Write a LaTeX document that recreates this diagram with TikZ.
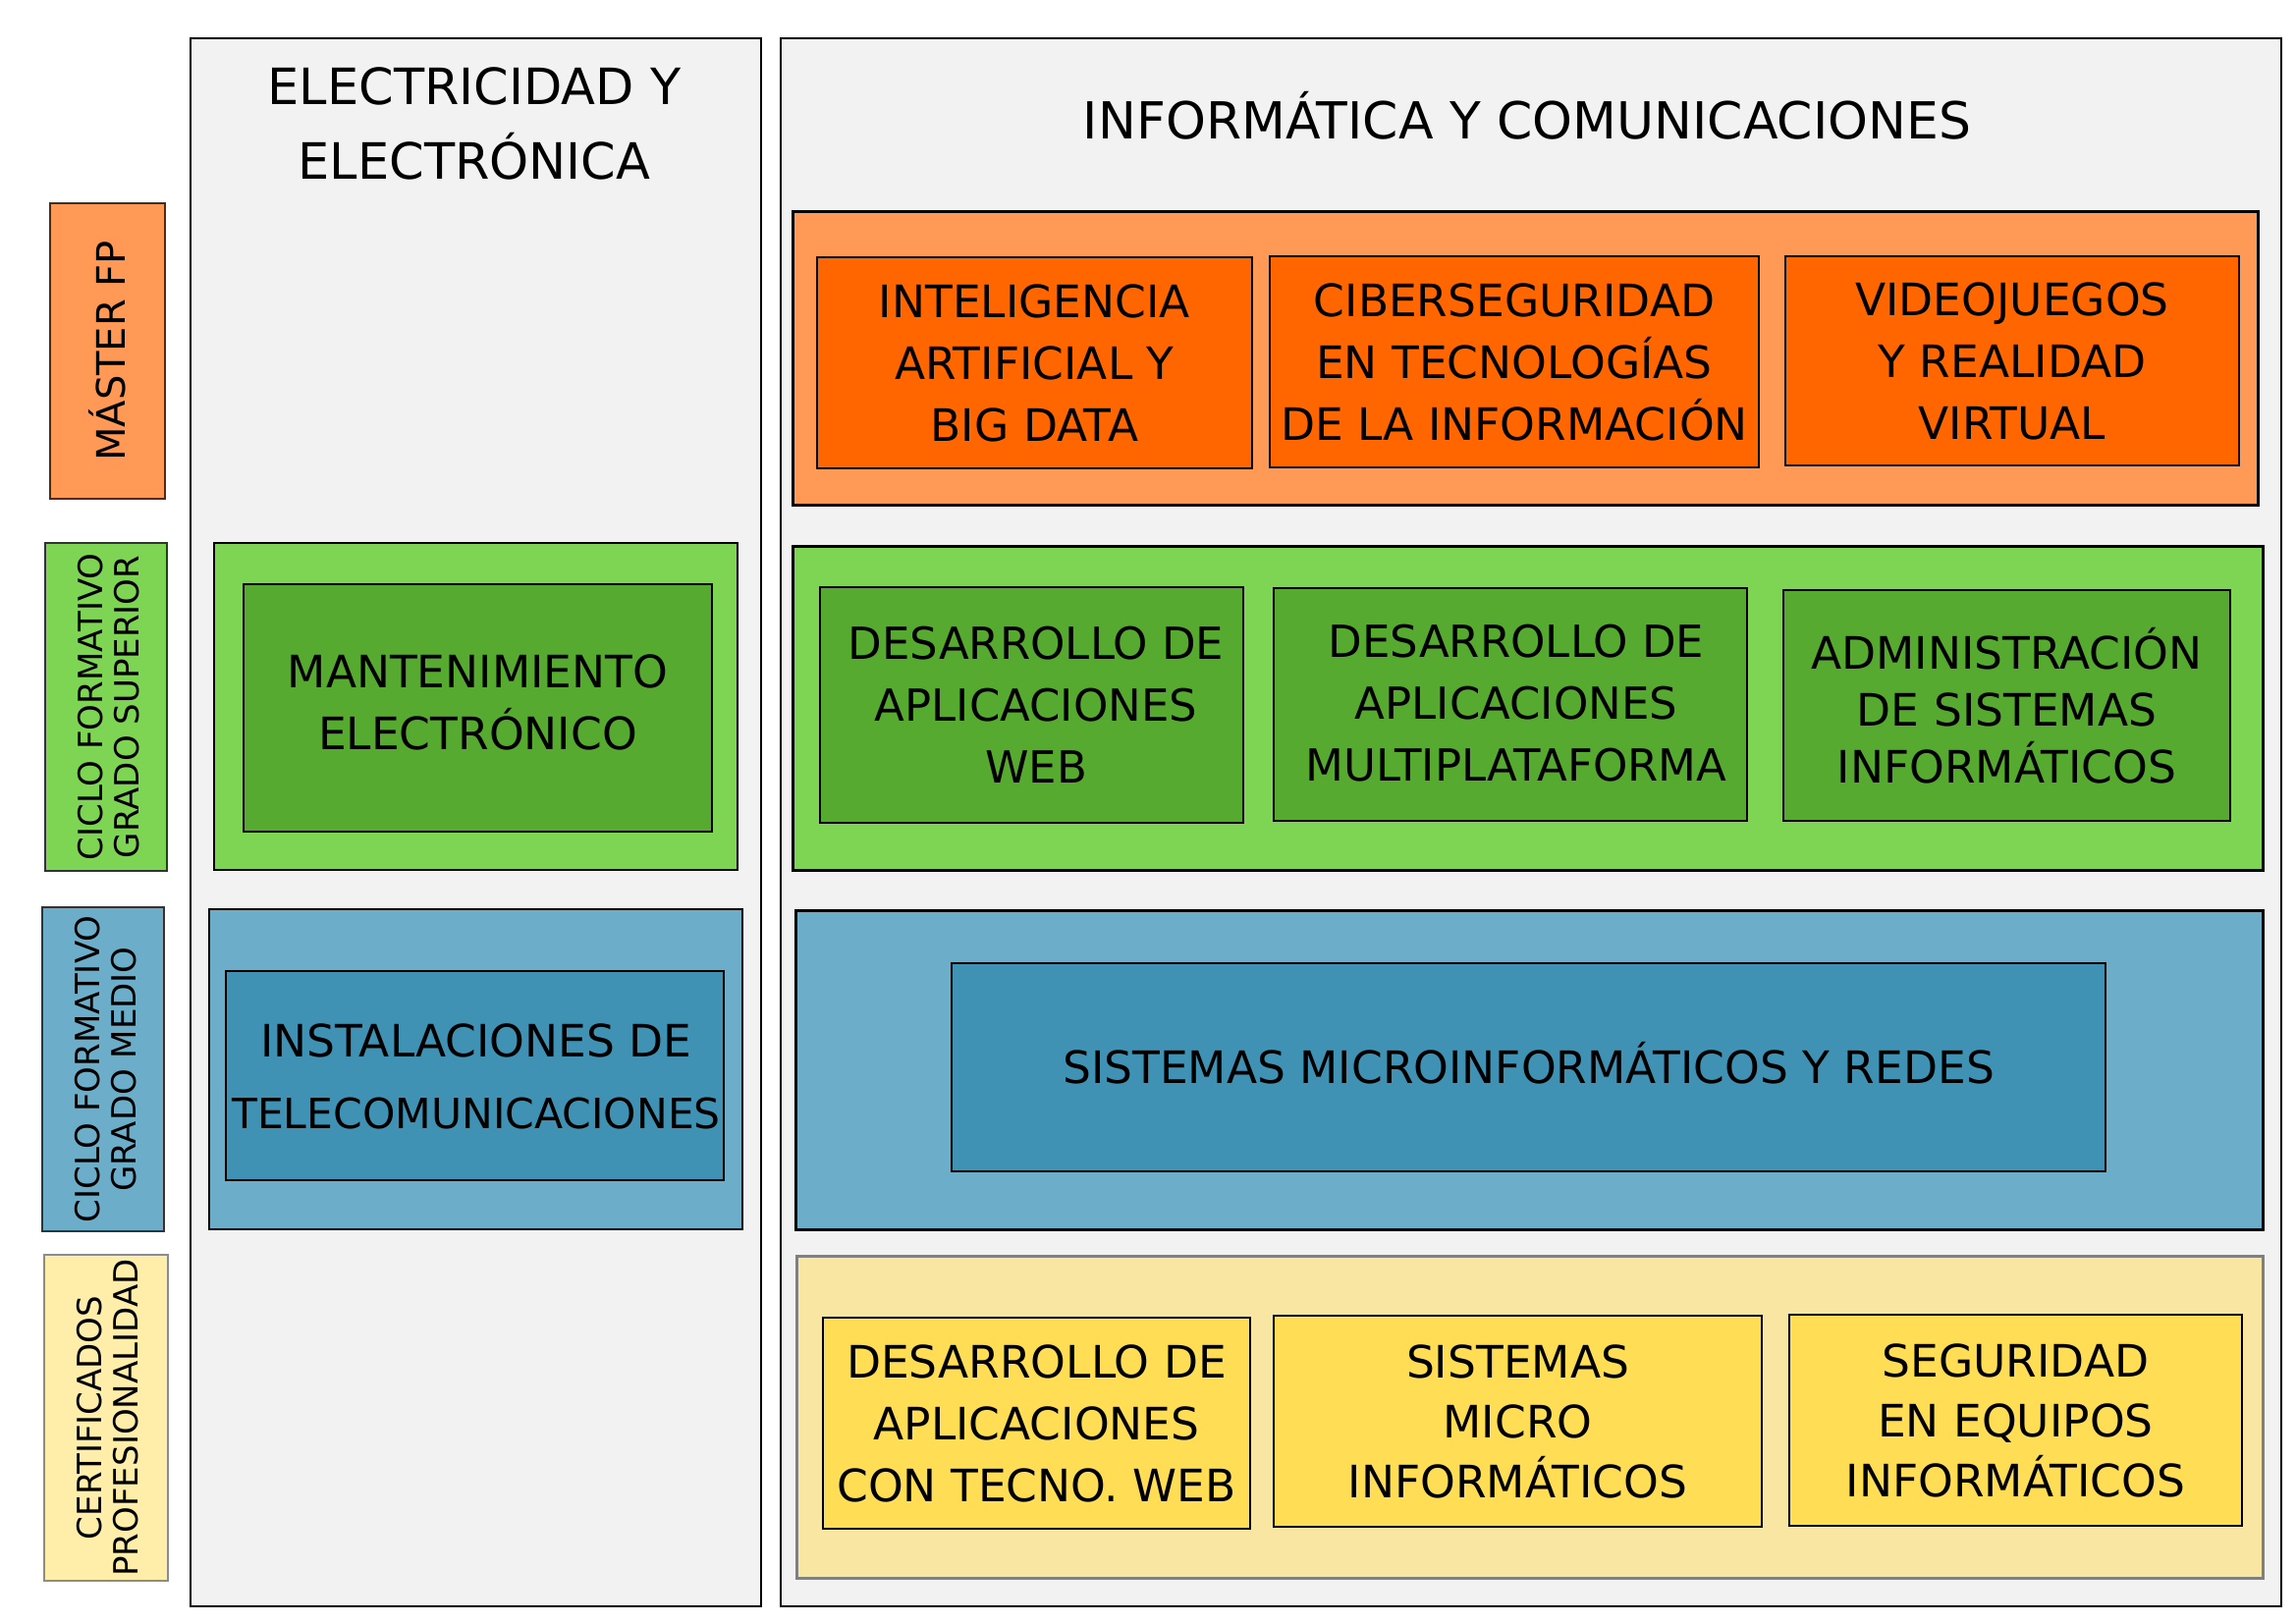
\documentclass[tikz,border=0pt]{standalone}
\usepackage{fontspec}
\setmainfont{DejaVu Sans}
\definecolor{colbg}{HTML}{F2F2F2}
\definecolor{orOut}{HTML}{FF9955}
\definecolor{orIn}{HTML}{FF6600}
\definecolor{grOut}{HTML}{7DD553}
\definecolor{grIn}{HTML}{56AA2F}
\definecolor{blOut}{HTML}{6CAECA}
\definecolor{blIn}{HTML}{3F92B4}
\definecolor{yeOut}{HTML}{F8E6A2}
\definecolor{yeLab}{HTML}{FFEEAA}
\definecolor{yeIn}{HTML}{FFDD55}
\tikzset{
  rbox/.style n args={2}{draw, inner sep=0pt, outer sep=0pt, minimum width=#1, minimum height=#2},
  column/.style={fill=colbg, line width=2pt},
  outerbox/.style={line width=3pt},
  innerbox/.style={line width=1.5pt, align=center, font=\fontsize{45.5}{63}\selectfont},
  sidelab/.style={draw=black!80, line width=1.2pt, align=center, inner sep=0pt, outer sep=0pt},
  sidetext/.style={rotate=90, align=center, font=\fontsize{34}{37}\selectfont},
  title/.style={align=center, font=\fontsize{51}{76}\selectfont}
}
\begin{document}
\begin{tikzpicture}[x=1pt, y=-1pt]
\useasboundingbox (0,0) rectangle (2338,1653);
% columns
\node[rbox={581pt}{1597pt}, column] (colE) at (484.5,837.5) {};
\node[rbox={1528pt}{1597pt}, column] (colI) at (1559,837.5) {};
\node[title] (tE) at (483,126) {ELECTRICIDAD Y\\ELECTRÓNICA};
\node[title, font=\fontsize{52}{76}\selectfont] (tI) at (1555,118) {INFORMÁTICA Y COMUNICACIONES};
% side labels
\node[rbox={117pt}{301pt}, sidelab, fill=orOut] (lM) at (109.5,357.5) {};
\node[sidetext, font=\fontsize{40}{44}\selectfont] (lMt) at (lM.center) {MÁSTER FP};
\node[rbox={124pt}{334pt}, sidelab, fill=grOut] (lS) at (108,720) {};
\node[sidetext] (lSt) at (111,720) {CICLO FORMATIVO\\GRADO SUPERIOR};
\node[rbox={124pt}{330pt}, sidelab, fill=blOut] (lG) at (105,1089) {};
\node[sidetext] (lGt) at (108,1089) {CICLO FORMATIVO\\GRADO MEDIO};
\node[rbox={126pt}{332pt}, sidelab, fill=yeLab, draw=black!45] (lC) at (108,1444) {};
\node[sidetext] (lCt) at (110,1444) {CERTIFICADOS\\PROFESIONALIDAD};
% left column
\node[rbox={533pt}{333pt}, outerbox, line width=1.5pt, fill=grOut] (gsE) at (484.5,719.5) {};
\node[rbox={477pt}{252pt}, innerbox, fill=grIn] (mant) at (486.5,721) {};
\node (mantt) at (486.5,715) [align=center, font=\fontsize{45.5}{63}\selectfont] {MANTENIMIENTO\\ELECTRÓNICO};
\node[rbox={543pt}{326pt}, outerbox, line width=1.5pt, fill=blOut] (gmE) at (484.5,1089) {};
\node[rbox={507pt}{213pt}, innerbox, fill=blIn] (inst) at (483.5,1095.5) {};
\node (instt) at (485,1096) [align=center, inner sep=0pt, font=\fontsize{42.5}{73}\selectfont] {{\fontsize{45.5}{73}\selectfont INSTALACIONES DE}\\TELECOMUNICACIONES};
% right column: master
\node[rbox={1492pt}{298pt}, outerbox, fill=orOut] (mOut) at (1553,365) {};
\node[rbox={443pt}{215pt}, innerbox, fill=orIn] (ia) at (1053.5,369.5) {INTELIGENCIA\\ARTIFICIAL Y\\BIG DATA};
\node[rbox={498pt}{215pt}, innerbox, fill=orIn] (ciber) at (1542,368.5) {CIBERSEGURIDAD\\EN TECNOLOGÍAS\\DE LA INFORMACIÓN};
\node[rbox={462pt}{213pt}, innerbox, fill=orIn] (video) at (2049,367.5) {VIDEOJUEGOS\\Y REALIDAD\\VIRTUAL};
% grado superior
\node[rbox={1497pt}{330pt}, outerbox, fill=grOut] (sOut) at (1555.5,721) {};
\node[rbox={431pt}{240pt}, innerbox, fill=grIn] (daw) at (1050.5,718) {};
\node (dawt) at (1055,718) [align=center, font=\fontsize{45}{63}\selectfont] {DESARROLLO DE\\APLICACIONES\\WEB};
\node[rbox={482pt}{237pt}, innerbox, fill=grIn] (dam) at (1538,717.5) {};
\node (damt) at (1544,716) [align=center, font=\fontsize{45}{63}\selectfont] {DESARROLLO DE\\APLICACIONES\\MULTIPLATAFORMA};
\node[rbox={455pt}{235pt}, innerbox, fill=grIn, font=\fontsize{45.5}{58}\selectfont] (asir) at (2043.5,718.5) {ADMINISTRACIÓN\\DE SISTEMAS\\INFORMÁTICOS};
% grado medio
\node[rbox={1494pt}{325pt}, outerbox, fill=blOut] (gOut) at (1557,1089.5) {};
\node[rbox={1175pt}{212pt}, innerbox, fill=blIn] (smr) at (1556.5,1087) {};
\node (smrt) at (1556.5,1083) [font=\fontsize{45.5}{63}\selectfont] {SISTEMAS MICROINFORMÁTICOS Y REDES};
% certificados
\node[rbox={1493pt}{328pt}, outerbox, draw=black!50, fill=yeOut] (cOut) at (1557.5,1443) {};
\node[rbox={435pt}{215pt}, innerbox, fill=yeIn] (dawc) at (1055.5,1449.5) {DESARROLLO DE\\APLICACIONES\\CON TECNO. WEB};
\node[rbox={497pt}{215pt}, innerbox, fill=yeIn, font=\fontsize{45.5}{61}\selectfont] (sist) at (1545.5,1447.5) {SISTEMAS\\MICRO\\INFORMÁTICOS};
\node[rbox={461pt}{215pt}, innerbox, fill=yeIn, font=\fontsize{45.5}{61}\selectfont] (seg) at (2052.5,1446.5) {SEGURIDAD\\EN EQUIPOS\\INFORMÁTICOS};
\end{tikzpicture}
\end{document}
